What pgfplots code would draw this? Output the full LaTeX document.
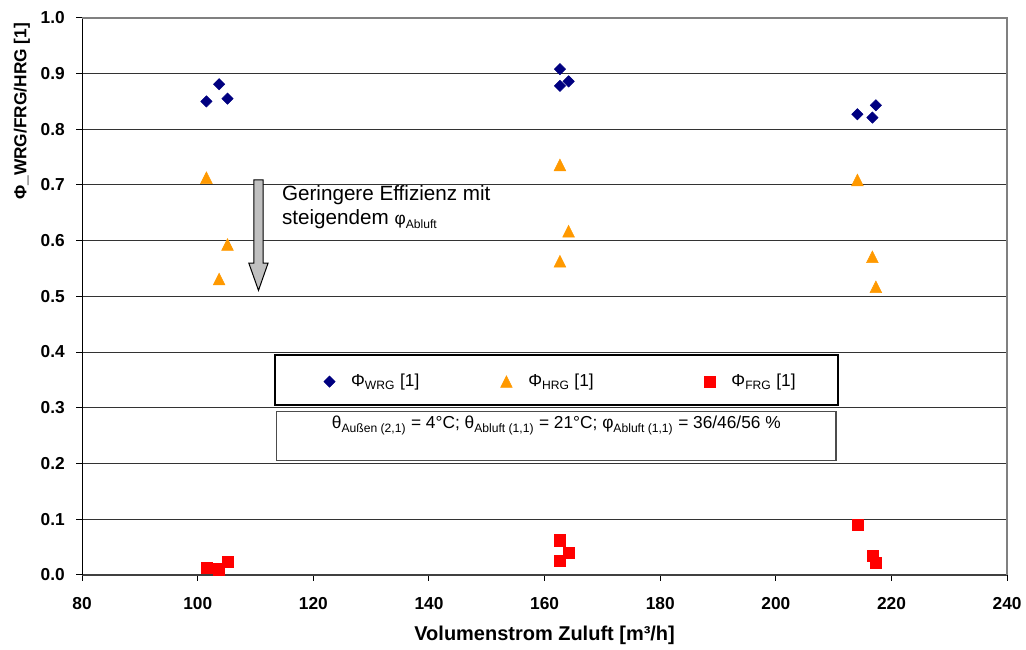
\documentclass[border=0pt]{standalone}
\usepackage{fontspec}
\setmainfont{Liberation Sans}
\usepackage{pgfplots}
\pgfplotsset{compat=1.18}
\definecolor{wrg}{HTML}{000080}
\definecolor{hrg}{HTML}{FF9900}
\definecolor{frg}{HTML}{FF0000}
\definecolor{arrowgray}{HTML}{C0C0C0}
\begin{document}
\begin{tikzpicture}
\begin{axis}[
  scale only axis, width=694.5pt, height=418.1pt,
  xmin=80, xmax=240, ymin=0, ymax=1,
  xtick={80,100,120,140,160,180,200,220,240},
  ytick={0,0.1,0.2,0.3,0.4,0.5,0.6,0.7,0.8,0.9,1.0},
  axis lines*=left,
  x axis line style={black!75, line width=1.2pt},
  y axis line style={black, line width=0.8pt},
  tick align=outside, major tick length=4.5pt,
  tick style={black, line width=0.75pt},
  ymajorgrids, grid style={black!80, line width=0.7pt},
  clip=false,
  /pgf/number format/assume math mode=true,
  yticklabel style={xshift=-5pt, /pgf/number format/.cd, fixed, fixed zerofill, precision=1},
  xticklabel style={yshift=-9pt},
  ticklabel style={font=\fontsize{13}{15}\selectfont\bfseries},
  xlabel={Volumenstrom Zuluft [m³/h]},
  ylabel={Φ\_WRG/FRG/HRG [1]},
  xlabel style={font=\fontsize{15}{18}\selectfont\bfseries, at={(rel axis cs:0.5,-0.1189)}, anchor=base},
  ylabel style={font=\fontsize{13}{16}\selectfont\bfseries, at={(rel axis cs:-0.0650,0.8321)}, anchor=center},
  legend columns=3,
  legend cell align=left,
  legend style={at={(rel axis cs:0.2611,0.3469)}, anchor=west, draw=none, fill=none,
    inner xsep=0pt, inner ysep=0pt, font=\fontsize{13}{15}\selectfont,
    /tikz/every odd column/.style={column sep=10pt},
    /tikz/column 2/.style={column sep=59pt}, /tikz/column 4/.style={column sep=81pt}},
]
\draw[gray, line width=1pt] (rel axis cs:0,1) -- (rel axis cs:1,1) -- (rel axis cs:1,0);
\draw[black, line width=1.5pt, fill=white] (rel axis cs:0.2087,0.3953) rectangle (rel axis cs:0.8173,0.3043);
\draw[black!70, line width=1pt, fill=white] (rel axis cs:0.2104,0.2926) rectangle (rel axis cs:0.8151,0.2047);
\node[font=\fontsize{13}{15}\selectfont] at (rel axis cs:0.5127,0.2680)
  {θ\textsubscript{Außen (2,1)} = 4°C; θ\textsubscript{Abluft (1,1)} = 21°C; φ\textsubscript{Abluft (1,1)} = 36/46/56 \%};
\draw[black, line width=0.75pt, fill=arrowgray]
  (axis cs:109.70,0.7092) -- (axis cs:111.31,0.7092) -- (axis cs:111.31,0.5598) -- (axis cs:112.17,0.5598)
  -- (axis cs:110.51,0.5107) -- (axis cs:108.83,0.5598) -- (axis cs:109.70,0.5598) -- cycle;
\node[anchor=base west, inner sep=0pt, font=\fontsize{15.5}{18}\selectfont] at (axis cs:114.54,0.6721) {Geringere Effizienz mit};
\node[anchor=base west, inner sep=0pt, font=\fontsize{15.5}{18}\selectfont] at (axis cs:114.54,0.6285) {steigendem {\fontsize{13}{15}\selectfont φ\textsubscript{Abluft}}};
\path (rel axis cs:0,0) ++(-61.65pt,-54.45pt) rectangle ++(769.5pt,486pt);

\addplot[only marks, mark=square*, mark size=3.0pt, mark options={rotate=45, draw=wrg, fill=wrg}]
  coordinates {(101.5,0.850) (103.7,0.881) (105.15,0.855) (162.65,0.908) (162.65,0.878) (164.15,0.886) (214.1,0.827) (216.7,0.821) (217.3,0.843)};
\addlegendentry{Φ\textsubscript{WRG} [1]}
\addplot[only marks, mark=triangle*, mark size=5.07pt, mark options={yshift=-1.46pt, yscale=1.155, draw=hrg, fill=hrg}]
  coordinates {(101.5,0.713) (103.7,0.531) (105.15,0.593) (162.65,0.736) (162.65,0.563) (164.15,0.617) (214.1,0.709) (216.7,0.571) (217.3,0.517)};
\addlegendentry{Φ\textsubscript{HRG} [1]}
\addplot[only marks, mark=square*, mark size=4.2pt, mark options={draw=frg, fill=frg}]
  coordinates {(101.5,0.012) (103.7,0.010) (105.15,0.024) (162.65,0.062) (162.65,0.025) (164.15,0.040) (214.1,0.090) (216.7,0.034) (217.3,0.022)};
\addlegendentry{Φ\textsubscript{FRG} [1]}
\end{axis}
\end{tikzpicture}
\end{document}
